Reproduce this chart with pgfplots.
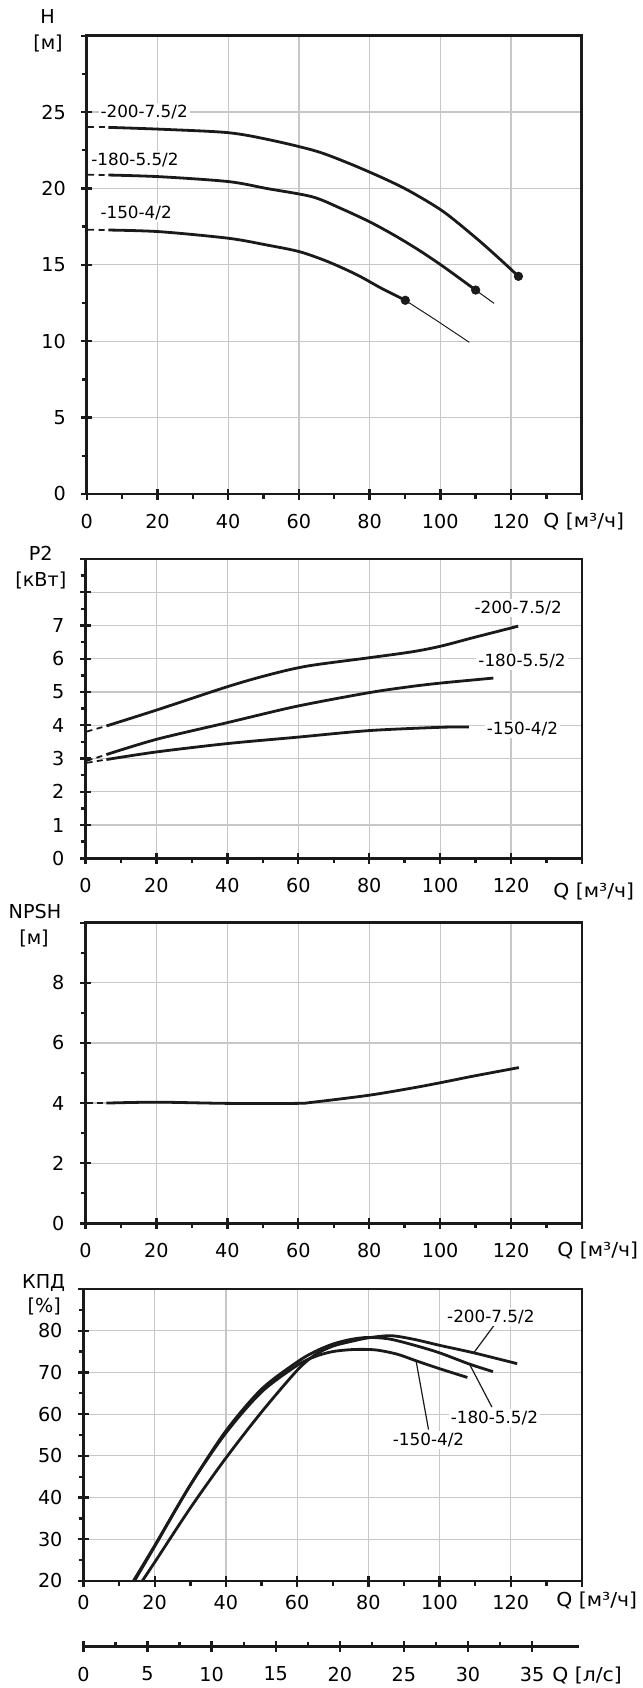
\documentclass[border=0pt]{standalone}
\usepackage{fontspec}
\setmainfont{DejaVu Sans}
\newfontfamily\qfont[FakeStretch=1.06]{DejaVu Sans}
\usepackage{pgfplots}
\pgfplotsset{compat=1.18}
\newcommand\tl{\fontsize{9.6pt}{11pt}\selectfont}
\newcommand\ql{\qfont\fontsize{9.6pt}{11pt}\selectfont}
\newcommand\cl{\fontsize{8.4pt}{10pt}\selectfont}
\definecolor{ink}{HTML}{1A1A1A}
\tikzset{lab/.style={font=\cl, fill=white, inner sep=1pt},
  qlab/.style={font=\ql, anchor=west, inner sep=0pt}}
\pgfplotsset{
  pumpaxis/.style={
    scale only axis, anchor=north west, clip=false,
    xmin=0, xmax=140,
    xtick={0,20,...,140},
    xticklabels={0,20,40,60,80,100,120,},
    minor x tick num=1,
    grid=major,
    major grid style={color=black!22, line width=0.6pt},
    axis line style={line width=1.3pt, color=ink},
    tick pos=left,
    tick align=outside,
    major tick length=5.5pt,
    minor tick length=2.4pt,
    tick style={line width=1.2pt, color=ink},
    major x tick style={yshift=2.75pt},
    major y tick style={xshift=2.75pt},
    tick label style={font=\tl},
    xticklabel style={yshift=-1pt},
    yticklabel style={xshift=-1.5pt},
  },
  crv/.style={ink, line width=1.4pt, smooth},
  dsh/.style={ink, line width=0.9pt, dash pattern=on 3pt off 2.2pt},
  thn/.style={ink, line width=0.5pt},
}
\begin{document}
\begin{tikzpicture}
\path[use as bounding box] (0,0) rectangle (321.5pt,-844pt);

% ---------- H ----------
\begin{axis}[pumpaxis, at={(43.4pt,-17.85pt)}, width=247.45pt, height=229.15pt,
  ymin=0, ymax=30, ytick={0,5,...,30}, yticklabels={0,5,10,15,20,25,}, minor y tick num=1]
\addplot[dsh] coordinates {(0.4,24.0) (6.1,24.0)};
\addplot[dsh] coordinates {(0.4,20.9) (6.1,20.88)};
\addplot[dsh] coordinates {(0.4,17.3) (6.1,17.28)};
\addplot[crv] coordinates {(6.1,24.0) (21.8,23.87) (40.1,23.65) (52,23.17) (64.8,22.45) (74.1,21.65) (84,20.66) (91.6,19.79) (100.9,18.48) (110.2,16.74) (116.5,15.45) (122.1,14.25)};
\addplot[crv] coordinates {(6.1,20.88) (20.7,20.77) (40.1,20.45) (50.9,20.0) (63.7,19.46) (71.8,18.7) (79.9,17.83) (86.9,16.95) (93.9,15.97) (100.9,14.88) (110,13.35)};
\addplot[crv] coordinates {(6.1,17.28) (20.7,17.17) (40.1,16.74) (50.9,16.3) (60.2,15.86) (68.3,15.2) (76.5,14.34) (83.4,13.46) (90.1,12.68)};
\addplot[thn] coordinates {(110,13.35) (115.2,12.48)};
\addplot[thn] coordinates {(90.1,12.68) (99,11.35) (108.2,9.93)};
\addplot[only marks, mark=*, mark size=2.1pt, ink] coordinates {(90.1,12.68) (110,13.35) (122.1,14.25)};
\node[lab, anchor=west] at (axis cs:3.2,25.0) {-200-7.5/2};
\node[lab, anchor=west] at (axis cs:0.6,21.86) {-180-5.5/2};
\node[lab, anchor=west] at (axis cs:3.2,18.37) {-150-4/2};
\end{axis}

% ---------- P2 ----------
\begin{axis}[pumpaxis, at={(42.75pt,-279.5pt)}, width=248.25pt, height=149.65pt,
  ymin=0, ymax=9, ytick={0,1,...,9}, yticklabels={0,1,2,3,4,5,6,7,,}, minor y tick num=1]
\addplot[dsh] coordinates {(0.3,3.81) (5.9,3.98)};
\addplot[dsh] coordinates {(0.3,2.93) (5.9,3.12)};
\addplot[dsh] coordinates {(0.3,2.87) (5.9,2.97)};
\addplot[crv] coordinates {(5.9,3.98) (20.1,4.46) (40,5.16) (51.4,5.51) (62.5,5.78) (79.9,6.03) (92.1,6.21) (100.2,6.38) (109.5,6.64) (122,6.98)};
\addplot[crv] coordinates {(5.9,3.12) (20.1,3.58) (40,4.08) (59.5,4.57) (79.9,4.98) (92.1,5.17) (100.2,5.27) (108,5.35) (115,5.42)};
\addplot[crv] coordinates {(5.9,2.97) (20.1,3.2) (40,3.45) (59.5,3.64) (79.9,3.84) (100.2,3.94) (108.1,3.95)};
\node[lab] at (axis cs:122,7.54) {-200-7.5/2};
\node[lab] at (axis cs:123.1,5.93) {-180-5.5/2};
\node[lab] at (axis cs:123.2,3.88) {-150-4/2};
\end{axis}

% ---------- NPSH ----------
\begin{axis}[pumpaxis, at={(42.75pt,-461.35pt)}, width=248.25pt, height=150.3pt,
  ymin=0, ymax=10, ytick={0,2,...,10}, yticklabels={0,2,4,6,8,}, minor y tick num=1]
\addplot[dsh] coordinates {(0.3,4.0) (5.9,4.0)};
\addplot[crv] coordinates {(5.9,4.0) (20.1,4.03) (40,3.99) (59.5,3.99) (64.2,4.03) (79.9,4.26) (92.1,4.5) (100.2,4.68) (109.5,4.9) (122.2,5.18)};
\end{axis}

% ---------- KPD ----------
\begin{axis}[pumpaxis, at={(41.75pt,-644.5pt)}, width=249.25pt, height=146pt,
  ymin=20, ymax=90, ytick={20,30,...,90}, yticklabels={20,30,40,50,60,70,80,}, minor y tick num=1,
  xticklabel style={yshift=3pt}]
\addplot[crv] coordinates {(14,20) (20,28.5) (30,43) (40,55.5) (50,65.3) (60,71.7) (65,73.8) (70,75) (76,75.5) (82,75.4) (88,74.4) (93.4,72.8) (100,70.9) (107.8,68.8)};
\addplot[crv] coordinates {(14.3,20) (20,28.3) (30,43) (40,56) (50,66) (60,72.5) (65,75) (70,76.8) (75,77.9) (80,78.4) (86,78.0) (93,76.5) (100,74.7) (108.4,72.0) (115,70.2)};
\addplot[crv] coordinates {(16.5,20) (20,24.5) (30,37.5) (40,49.5) (50,60.5) (60,70.5) (65,74.2) (70,76.3) (75,77.4) (80,78.3) (86.4,78.8) (93,77.9) (100,76.5) (109.6,74.7) (121.8,72.1)};
\addplot[thn, line width=0.6pt] coordinates {(115.4,81.4) (109.6,74.7)};
\addplot[thn, line width=0.6pt] coordinates {(114.7,61.7) (108.4,72.0)};
\addplot[thn, line width=0.6pt] coordinates {(96.9,56.3) (93.4,72.8)};
\node[lab] at (axis cs:114.4,83.4) {-200-7.5/2};
\node[lab] at (axis cs:115.4,59.1) {-180-5.5/2};
\node[lab] at (axis cs:96.9,53.9) {-150-4/2};
\end{axis}

% ---------- l/s axis ----------
\begin{axis}[scale only axis, anchor=south west, at={(41.75pt,-823.35pt)}, width=247.8pt, height=1pt,
  xmin=0, xmax=38.67, ymin=0, ymax=1,
  axis x line*=bottom, axis y line=none,
  axis line style={line width=1.3pt, color=ink},
  xtick={0,5,...,35}, xticklabels={0,5,10,15,20,25,30,35}, minor x tick num=1,
  tick align=outside, major tick length=5.5pt, minor tick length=2.4pt,
  tick style={line width=1.2pt, color=ink},
  major x tick style={yshift=2.75pt},
  minor x tick style={yshift=2.4pt},
  tick label style={font=\tl}, xticklabel style={yshift=-1pt}]
\addplot[draw=none] coordinates {(0,0) (38,0)};
\end{axis}

% ---------- axis titles ----------
\node[font=\tl] at (23.75pt,-8pt) {H};
\node[font=\tl] at (24pt,-21.65pt) {[м]};
\node[qlab] at (271.5pt,-260.5pt) {Q [м³/ч]};
\node[font=\tl] at (20.4pt,-276.65pt) {P2};
\node[font=\tl] at (20.4pt,-290pt) {[кВт]};
\node[qlab] at (276.5pt,-445.85pt) {Q [м³/ч]};
\node[font=\tl] at (17.5pt,-455.85pt) {NPSH};
\node[font=\tl] at (17pt,-469.15pt) {[м]};
\node[qlab] at (278.5pt,-625pt) {Q [м³/ч]};
\node[font=\tl] at (21.85pt,-641.65pt) {КПД};
\node[font=\tl] at (22.15pt,-653.35pt) {[\%]};
\node[qlab] at (278pt,-800pt) {Q [м³/ч]};
\node[qlab] at (276pt,-837.5pt) {Q [л/с]};
\end{tikzpicture}
\end{document}
